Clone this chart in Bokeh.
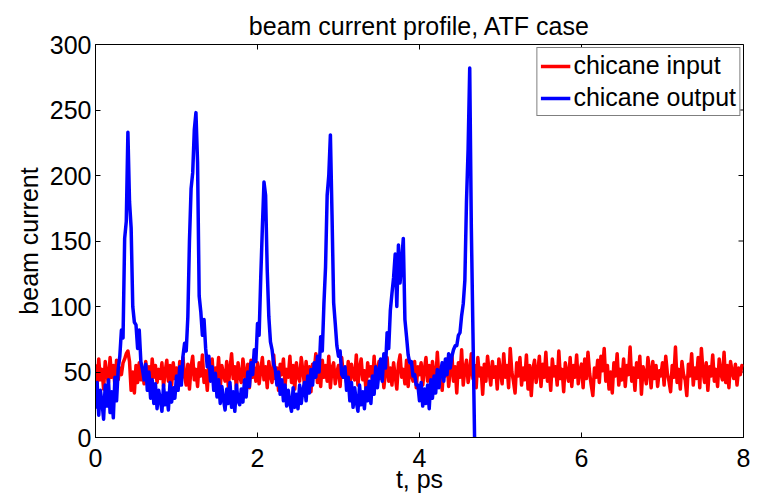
import math
from bokeh.plotting import figure
from bokeh.models import Range1d, FixedTicker, Legend, LegendItem
from bokeh.embed import file_html
from bokeh.resources import INLINE

# ---------------- data ----------------
title_text = "beam current profile, ATF case"
x_label = "t, ps"
y_label = "beam current"
series_names = ["chicane input", "chicane output"]
x_ticks = [0, 2, 4, 6, 8]
y_ticks = [0, 50, 100, 150, 200, 250, 300]

# chicane input: sampled every 0.02 ps from 0 to 8 ps (two rows per ps)
input_t0 = 0.0
input_dt = 0.02
chicane_input = [
    56, 40, 60, 44, 52, 37, 58, 48, 42, 61, 46, 55, 39, 59, 44, 53, 48, 57, 60, 64, 66, 58, 36, 50, 34,
    55, 42, 57, 44, 52, 41, 58, 45, 54, 38, 60, 46, 55, 42, 52, 45, 57, 39, 50, 59, 43, 55, 40, 57, 45,
    53, 39, 58, 45, 61, 47, 40, 56, 37, 54, 62, 44, 52, 39, 57, 47, 63, 42, 51, 36, 56, 46, 60, 41, 53,
    45, 61, 38, 55, 48, 43, 58, 39, 52, 64, 45, 54, 37, 57, 47, 42, 60, 50, 40, 56, 38, 59, 46, 53, 43,
    57, 41, 51, 61, 44, 54, 38, 58, 47, 42, 63, 45, 53, 36, 56, 48, 60, 40, 52, 46, 62, 42, 55, 37, 57,
    47, 43, 61, 51, 40, 58, 45, 54, 35, 56, 50, 64, 42, 50, 39, 59, 46, 55, 43, 62, 38, 53, 57, 41, 50,
    55, 39, 61, 46, 52, 42, 58, 37, 56, 48, 44, 63, 40, 53, 60, 44, 51, 36, 57, 47, 54, 42, 62, 39, 52,
    58, 45, 55, 38, 50, 61, 43, 53, 40, 57, 47, 37, 56, 63, 46, 52, 41, 59, 39, 55, 48, 43, 58, 38, 54,
    48, 57, 40, 52, 61, 43, 55, 37, 58, 48, 42, 65, 45, 53, 36, 56, 47, 60, 39, 51, 63, 43, 54, 34, 57,
    46, 67, 40, 52, 59, 42, 50, 64, 45, 55, 38, 61, 47, 53, 33, 56, 43, 62, 50, 40, 58, 46, 54, 37, 60,
    50, 41, 64, 46, 55, 38, 68, 50, 43, 34, 57, 47, 61, 40, 53, 44, 63, 37, 55, 32, 52, 59, 42, 50, 62,
    39, 56, 46, 65, 43, 53, 36, 60, 47, 54, 40, 66, 45, 52, 35, 57, 49, 43, 61, 39, 55, 46, 63, 41, 51,
    56, 38, 60, 45, 65, 49, 40, 32, 53, 46, 59, 42, 62, 51, 68, 43, 55, 37, 50, 34, 57, 47, 64, 40, 52,
    44, 60, 39, 55, 48, 69, 43, 53, 36, 57, 46, 62, 33, 54, 49, 41, 61, 51, 38, 58, 45, 55, 39, 51, 47,
    57, 40, 62, 49, 43, 35, 55, 46, 69, 42, 52, 37, 58, 48, 44, 32, 56, 47, 64, 40, 53, 45, 61, 38, 68,
    50, 42, 57, 36, 54, 47, 63, 43, 52, 39, 60, 49, 44, 65, 42, 55, 38, 58, 50, 45, 56, 40, 53, 48, 55,
    54,
]

# chicane output: sampled every 0.02 ps from 0 to 4.68 ps
output_t0 = 0.0
output_dt = 0.02
chicane_output = [
    22, 42, 17, 36, 27, 14, 40, 24, 44, 19, 35, 15, 46, 28, 52,
    62, 82, 76, 152, 165,
    233,
    180, 160, 100, 88, 86, 68, 82, 58, 52,
    44, 56, 36, 50, 30, 44, 26, 41, 22, 36, 29, 20, 40, 25, 34, 21, 42, 27, 38, 30,
    47, 36, 54, 40, 62, 72,
    66, 92, 150, 190, 202, 235,
    248,
    210, 108, 96, 78, 90, 68, 54, 62,
    43, 54, 36, 49, 31, 44, 26, 39, 29, 21, 37, 26, 42, 23, 35, 20, 40, 28, 25, 37, 27, 44, 31, 50, 39,
    57, 48, 67, 58, 87, 78, 122, 160,
    195,
    185, 128, 92, 73, 67, 56, 52, 40,
    50, 33, 44, 28, 40, 24, 36, 26, 20, 38, 23, 33, 22, 40, 26, 36, 42, 28, 47, 34, 52, 40, 57, 46, 62, 50,
    77, 66, 102, 130, 185, 200,
    231,
    170, 103, 87, 70, 62, 66, 48, 46,
    54, 36, 46, 28, 42, 23, 38, 27, 20, 40, 25, 35, 22, 38, 28, 43, 26, 47, 33, 54, 38, 50, 60, 43, 64, 53,
    80, 68, 97, 110, 122, 140, 100,
    147, 118, 135, 152, 90,
    77, 63, 57, 58, 47, 48, 40, 40,
    28, 42, 24, 37, 26, 40, 22, 44, 30, 47, 34, 52, 38, 50, 57, 43, 60, 48, 64, 53, 62,
    67, 70, 70, 78, 80, 93, 102, 120, 180, 220,
    282,
    160, 80, 0,
]

t_input = [round(input_t0 + i * input_dt, 4) for i in range(len(chicane_input))]
t_output = [round(output_t0 + i * output_dt, 4) for i in range(len(chicane_output))]

# ---------------- figure ----------------
FONT = "Liberation Sans"

p = figure(
    width=759, height=496,
    x_range=Range1d(x_ticks[0], x_ticks[-1]), y_range=Range1d(y_ticks[0], y_ticks[-1]),
    output_backend="svg", toolbar_location=None,
    min_border_left=95, min_border_right=16, min_border_top=44, min_border_bottom=59,
    background_fill_color="white", border_fill_color="white",
)
p.outline_line_color = "black"
p.outline_line_width = 1
p.xgrid.visible = False
p.ygrid.visible = False

p.title.text = title_text
p.title.text_font = FONT
p.title.text_font_size = "25px"
p.title.text_font_style = "normal"
p.title.align = "center"
p.title.text_color = "black"

for ax, ticks in ((p.xaxis[0], x_ticks), (p.yaxis[0], y_ticks)):
    ax.ticker = FixedTicker(ticks=ticks)
    ax.major_tick_in = 5
    ax.major_tick_out = 0
    ax.minor_tick_in = 0
    ax.minor_tick_out = 0
    ax.axis_line_color = "black"
    ax.major_tick_line_color = "black"
    ax.major_label_text_font = FONT
    ax.major_label_text_font_size = "25px"
    ax.major_label_text_color = "black"
    ax.axis_label_text_font = FONT
    ax.axis_label_text_font_size = "25px"
    ax.axis_label_text_font_style = "normal"
    ax.axis_label_text_color = "black"

p.xaxis[0].axis_label = x_label
p.yaxis[0].axis_label = y_label
p.xaxis[0].major_label_standoff = 11
p.xaxis[0].axis_label_standoff = -5
p.yaxis[0].major_label_standoff = 4
p.yaxis[0].axis_label_standoff = 4

# mirrored inward ticks on the top and right edges (half of each dash is clipped by the frame)
p.scatter(x=x_ticks, y=[y_ticks[-1]] * len(x_ticks), marker="dash", size=10,
          angle=math.pi / 2, line_color="black", line_width=1)
p.scatter(x=[x_ticks[-1]] * len(y_ticks), y=y_ticks, marker="dash", size=10,
          line_color="black", line_width=1)

r_in = p.line(t_input, chicane_input, line_color="#FF0000", line_width=3.5, line_join="round")
r_out = p.line(t_output, chicane_output, line_color="#0000FF", line_width=3.5, line_join="round")

legend = Legend(
    items=[LegendItem(label=series_names[0], renderers=[r_in]),
           LegendItem(label=series_names[1], renderers=[r_out])],
    location="top_right",
)
legend.label_text_font = FONT
legend.label_text_font_size = "25px"
legend.label_text_color = "black"
legend.label_height = 28
legend.glyph_height = 28
legend.glyph_width = 30
legend.label_standoff = 3
legend.spacing = 3
legend.padding = 3
legend.margin = 3
legend.border_line_color = "black"
legend.border_line_width = 1
legend.background_fill_color = "white"
legend.background_fill_alpha = 1.0
p.add_layout(legend, "center")

open("out.html", "w").write(file_html(p, INLINE))
